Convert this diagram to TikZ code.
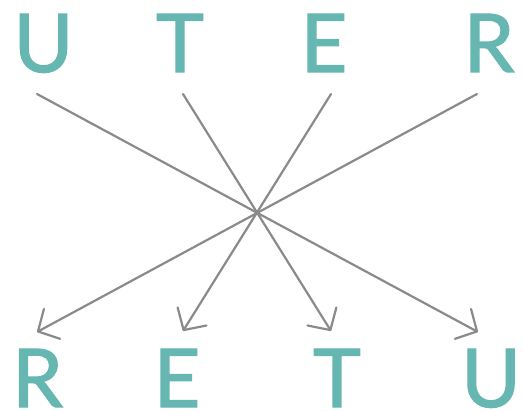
\documentclass[tikz,border=0pt]{standalone}
\usepackage{fontspec}
\setmainfont{Lato}
\newfontfamily\letterfont{Lato}[FakeBold=1.6]
\usetikzlibrary{arrows.meta}
\definecolor{tealc}{HTML}{66B6B1}
\definecolor{grayc}{HTML}{8A8A8A}
\begin{document}
\begin{tikzpicture}[x=1pt,y=-1pt,
  letter/.style={inner sep=0pt, anchor=base, text depth=0pt, text=tealc, font=\letterfont\fontsize{81}{81}\selectfont},
  conn/.style={draw=grayc, line width=2.2pt, line cap=round,
    -{Straight Barb[length=16pt, width=34pt, line width=2.2pt, round]}}]
\useasboundingbox (0,0) rectangle (523,412);
% top row
\node[letter] (tU) at (43.5,72) {U};
\node[letter] (tT) at (180,72) {T};
\node[letter] (tE) at (324,72) {E};
\node[letter] (tR) at (489,72) {R};
% bottom row
\node[letter] (bR) at (37.5,407) {R};
\node[letter] (bE) at (177,407) {E};
\node[letter] (bT) at (337,407) {T};
\node[letter] (bU) at (491,407) {U};
% connector ends
\coordinate (sU) at (37,94);
\coordinate (sT) at (183,94);
\coordinate (sE) at (331,94);
\coordinate (sR) at (477,94);
\coordinate (eR) at (37,332);
\coordinate (eE) at (183,331);
\coordinate (eT) at (331,331);
\coordinate (eU) at (478,332);
\draw[conn] (sU) -- (eU);
\draw[conn] (sT) -- (eT);
\draw[conn] (sE) -- (eE);
\draw[conn] (sR) -- (eR);
\end{tikzpicture}
\end{document}
